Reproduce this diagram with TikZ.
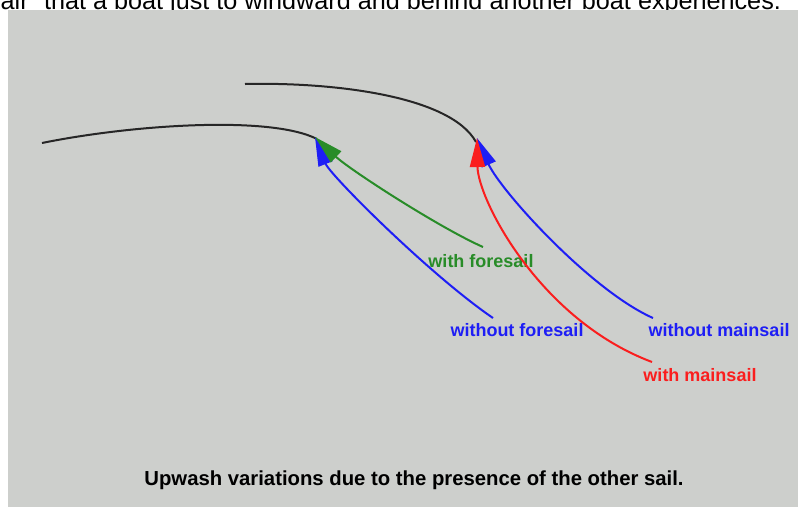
\documentclass[tikz,border=0pt]{standalone}
\usepackage{fontspec}
\setmainfont{Liberation Sans}
\usetikzlibrary{arrows.meta}

\definecolor{bggray}{RGB}{205,207,204}
\definecolor{upblue}{RGB}{30,30,245}
\definecolor{upgreen}{RGB}{40,140,40}
\definecolor{upred}{RGB}{250,30,30}

\begin{document}
\begin{tikzpicture}[x=1pt,y=-1pt,
  sail/.style={draw=black!85,line width=2pt},
  flow/.style={line width=2pt,-{Triangle[length=29pt,width=15pt]}},
  lbl/.style={font=\fontsize{18}{18}\selectfont\bfseries,inner sep=0pt,anchor=base}]
 \useasboundingbox (0,0) rectangle (798,507);
 \clip (0,0) rectangle (798,507);
 \node[anchor=base west,inner sep=0pt,font=\fontsize{25.2}{26}\selectfont] (T0) at (0.5,9)
   {air" that a boat just to windward and behind another boat experiences.};
 \fill[bggray] (8,10) rectangle (798,507);

 \coordinate (F0) at (42,143);
 \coordinate (F1) at (317,139);
 \coordinate (M0) at (245,84);
 \coordinate (M1) at (476,142);
 \coordinate (TF) at (315,137);
 \coordinate (TM) at (477,138);

 \coordinate (A0) at (493,318);
 \coordinate (A1) at (483,247);
 \coordinate (A2) at (653,318);
 \coordinate (A3) at (652,362);

 \node[lbl,text=upgreen] (L1) at (481,267) {with foresail};
 \node[lbl,text=upblue] (L0) at (517,336.5) {without foresail};
 \node[lbl,text=upblue] (L2) at (719,336.5) {without mainsail};
 \node[lbl,text=upred] (L3) at (700,381.5) {with mainsail};
 \node[anchor=base,inner sep=0pt,font=\fontsize{20.3}{21}\selectfont\bfseries] (C0) at (414,485)
   {Upwash variations due to the presence of the other sail.};

 \draw[sail] (F0) .. controls (130,125) and (270,115) .. (F1);
 \draw[sail] (M0) .. controls (330,82) and (450,95) .. (M1);

 \draw[flow,upblue] (A0) .. controls (430,275) and (330,175) .. (TF);
 \draw[flow,upgreen] (A1) .. controls (440,228) and (350,170) .. (TF);
 \draw[flow,upblue] (A2) .. controls (590,290) and (500,190) .. (TM);
 \draw[flow,upred] (A3) .. controls (540,320) and (478,200) .. (TM);
\end{tikzpicture}
\end{document}
